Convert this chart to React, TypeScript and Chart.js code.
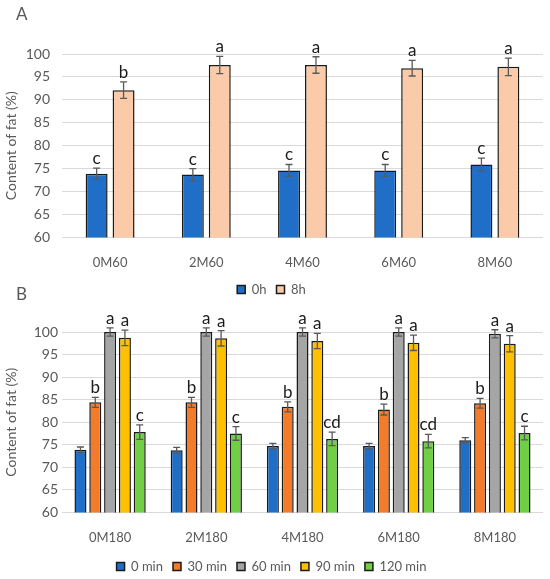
import React, { useEffect, useRef } from "react";
import { Chart, registerables } from "chart.js";

Chart.register(...registerables);

// Panel A
const groupsA = ["0M60", "2M60", "4M60", "6M60", "8M60"];
const fat0h = [73.9, 73.7, 74.6, 74.6, 75.9];
const fat8h = [92.1, 97.6, 97.6, 96.9, 97.2];
const err0h = [1.2, 1.3, 1.3, 1.3, 1.4];
const err8h = [1.8, 1.9, 1.8, 1.7, 1.9];
const letters0h = ["c", "c", "c", "c", "c"];
const letters8h = ["b", "a", "a", "a", "a"];

// Panel B
const groupsB = ["0M180", "2M180", "4M180", "6M180", "8M180"];
const fat0min = [73.9, 73.8, 74.7, 74.7, 76.0];
const fat30min = [84.4, 84.4, 83.4, 82.8, 84.2];
const fat60min = [100.0, 100.0, 100.0, 100.0, 99.6];
const fat90min = [98.7, 98.6, 98.0, 97.6, 97.4];
const fat120min = [77.8, 77.5, 76.3, 75.8, 77.6];
const err0min = [0.6, 0.6, 0.6, 0.6, 0.6];
const err30min = [1.1, 1.1, 1.1, 1.2, 1.1];
const err60min = [0.9, 0.9, 0.9, 0.9, 0.9];
const err90min = [1.7, 1.7, 1.7, 1.7, 1.8];
const err120min = [1.6, 1.5, 1.5, 1.5, 1.5];
const letters0min = ["", "", "", "", ""];
const letters30min = ["b", "b", "b", "b", "b"];
const letters60min = ["a", "a", "a", "a", "a"];
const letters90min = ["a", "a", "a", "a", "a"];
const letters120min = ["c", "c", "cd", "cd", "c"];

const yTicks = [60, 65, 70, 75, 80, 85, 90, 95, 100];

const FONT = "Lato, 'Open Sans', sans-serif";
const GREY_TEXT = "#595959";

interface Series {
  label: string;
  data: number[];
  err: number[];
  letters: string[];
  color: string;
}

// draws error bars and the significance letters above each bar
const errorBarPlugin = {
  id: "errorBars",
  afterDatasetsDraw(chart: any) {
    const ctx = chart.ctx;
    const y = chart.scales.y;
    chart.data.datasets.forEach((ds: any, i: number) => {
      const meta = chart.getDatasetMeta(i);
      meta.data.forEach((bar: any, j: number) => {
        const v = ds.data[j];
        const e = ds.err[j];
        const top = y.getPixelForValue(v + e);
        const bot = y.getPixelForValue(v - e);
        const x = bar.x;
        ctx.save();
        ctx.strokeStyle = "#595959";
        ctx.lineWidth = 1.3;
        ctx.beginPath();
        ctx.moveTo(x, top);
        ctx.lineTo(x, bot);
        ctx.moveTo(x - 3.5, top);
        ctx.lineTo(x + 3.5, top);
        ctx.moveTo(x - 3.5, bot);
        ctx.lineTo(x + 3.5, bot);
        ctx.stroke();
        const letter = ds.letters[j];
        if (letter) {
          ctx.fillStyle = "#1a1a1a";
          ctx.font = `17px ${FONT}`;
          ctx.textAlign = "center";
          ctx.textBaseline = "bottom";
          ctx.fillText(letter, x, top - 1);
        }
        ctx.restore();
      });
    });
  },
};

interface PanelProps {
  groups: string[];
  series: Series[];
  height: number;
  tickPadding: number;
  padTop: number;
  xShrink: number;
  categoryPercentage: number;
  barPercentage: number;
}

const BarPanel: React.FC<PanelProps> = ({
  groups,
  series,
  height,
  tickPadding,
  padTop,
  xShrink,
  categoryPercentage,
  barPercentage,
}) => {
  const canvasRef = useRef<HTMLCanvasElement>(null);

  useEffect(() => {
    if (!canvasRef.current) return;
    const chart = new Chart(canvasRef.current, {
      type: "bar",
      data: {
        labels: groups,
        datasets: series.map((s) => ({
          label: s.label,
          data: s.data,
          err: s.err,
          letters: s.letters,
          backgroundColor: s.color,
          borderColor: "#1a1a1a",
          borderWidth: 1.5,
          categoryPercentage,
          barPercentage,
        })) as any,
      },
      options: {
        animation: false,
        responsive: false,
        layout: { padding: { top: padTop, right: 7, bottom: 0, left: 0 } },
        plugins: {
          tooltip: { enabled: false },
          legend: {
            position: "bottom",
            labels: {
              boxWidth: 8,
              boxHeight: 8,
              padding: 10,
              color: GREY_TEXT,
              font: { family: FONT, size: 13 },
            },
          },
        },
        scales: {
          x: {
            grid: { display: false },
            border: { display: false },
            afterFit: (scale: any) => {
              scale.height -= xShrink;
            },
            ticks: {
              color: GREY_TEXT,
              font: { family: FONT, size: 13 },
              padding: 10,
            },
          },
          y: {
            min: 60,
            max: 100,
            afterFit: (scale: any) => {
              scale.width = 62;
            },
            afterBuildTicks: (scale: any) => {
              scale.ticks = yTicks.map((v) => ({ value: v }));
            },
            grid: { color: "#d9d9d9", lineWidth: 1, drawTicks: false },
            border: { display: false },
            ticks: {
              color: GREY_TEXT,
              font: { family: FONT, size: 14 },
              padding: tickPadding,
            },
            title: {
              display: true,
              text: "Content of fat (%)",
              color: GREY_TEXT,
              font: { family: FONT, size: 14 },
              padding: { top: 3, bottom: 4 },
            },
          },
        },
      },
      plugins: [errorBarPlugin],
    });
    return () => {
      chart.destroy();
    };
  }, [groups, series]);

  return <canvas ref={canvasRef} width={550} height={height} style={{ display: "block" }} />;
};

const seriesA: Series[] = [
  { label: "0h", data: fat0h, err: err0h, letters: letters0h, color: "#1f6fc9" },
  { label: "8h", data: fat8h, err: err8h, letters: letters8h, color: "#fbcaa8" },
];

const seriesB: Series[] = [
  { label: "0 min", data: fat0min, err: err0min, letters: letters0min, color: "#1f6fc9" },
  { label: "30 min", data: fat30min, err: err30min, letters: letters30min, color: "#f47b2a" },
  { label: "60 min", data: fat60min, err: err60min, letters: letters60min, color: "#a5a5a5" },
  { label: "90 min", data: fat90min, err: err90min, letters: letters90min, color: "#ffc000" },
  { label: "120 min", data: fat120min, err: err120min, letters: letters120min, color: "#6fd046" },
];

const panelLabel: React.CSSProperties = {
  position: "absolute",
  left: 16,
  fontFamily: FONT,
  fontSize: 17,
  color: GREY_TEXT,
};

export default function App() {
  useEffect(() => {
    document.body.style.margin = "0";
  }, []);

  return (
    <div
      style={{
        position: "relative",
        width: 550,
        height: 579,
        overflow: "hidden",
        background: "#fff",
      }}
    >
      <div style={{ position: "absolute", left: 0, top: 0 }}>
        <BarPanel
          groups={groupsA}
          series={seriesA}
          height={306}
          tickPadding={12}
          padTop={54}
          xShrink={8}
          categoryPercentage={0.56}
          barPercentage={0.815}
        />
      </div>
      <div style={{ position: "absolute", left: 0, top: 290 }}>
        <BarPanel
          groups={groupsB}
          series={seriesB}
          height={293}
          tickPadding={4}
          padTop={42}
          xShrink={6}
          categoryPercentage={0.77}
          barPercentage={0.81}
        />
      </div>
      <div style={{ ...panelLabel, top: 3 }}>A</div>
      <div style={{ ...panelLabel, top: 283 }}>B</div>
    </div>
  );
}
